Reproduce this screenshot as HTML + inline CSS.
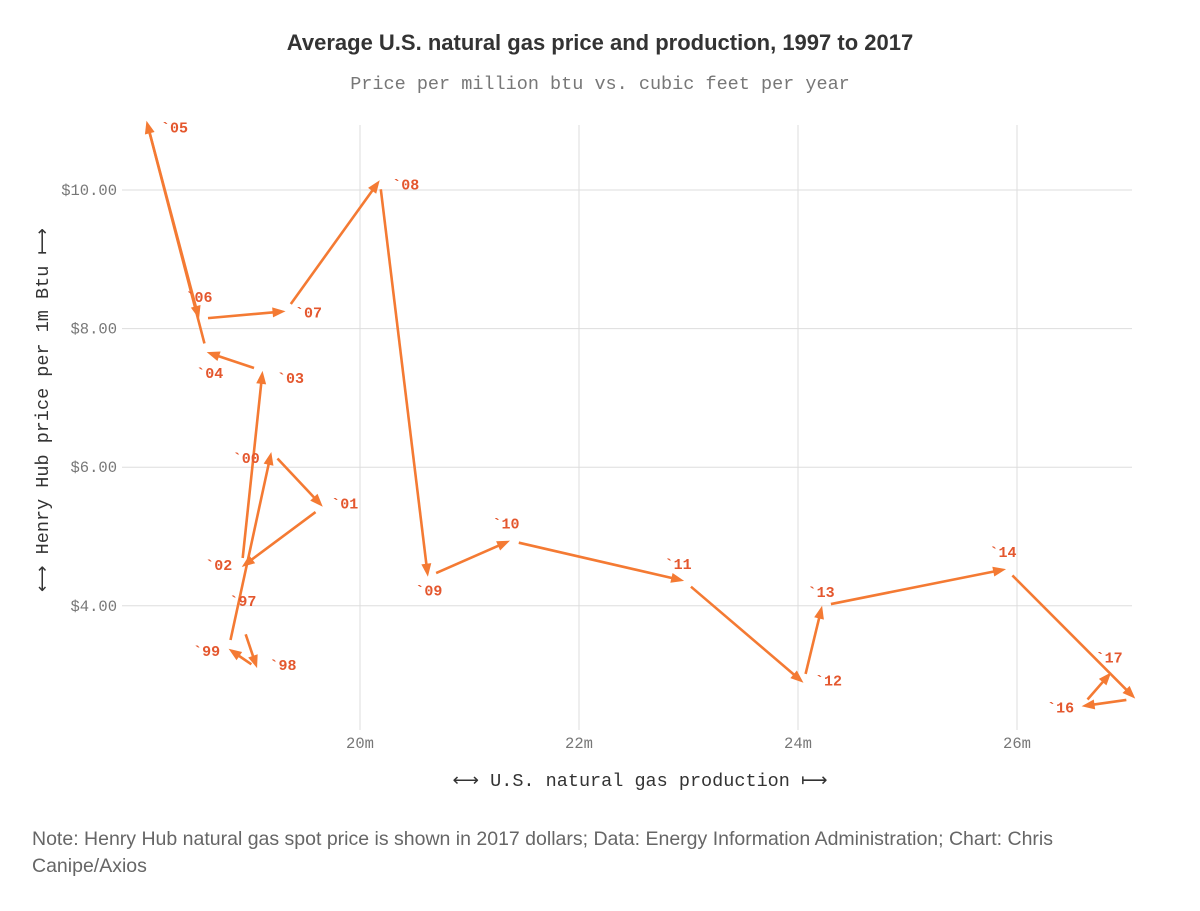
<!DOCTYPE html>
<html><head><meta charset="utf-8"><style>
body{margin:0;background:#fff;width:1200px;height:906px;overflow:hidden}
svg text{font-family:"Liberation Mono",monospace}
</style></head><body>
<svg id="chart" width="1200" height="906" viewBox="0 0 1200 906" xmlns="http://www.w3.org/2000/svg">
<text x="600" y="50" text-anchor="middle" style="font-family:'Liberation Sans',sans-serif;font-weight:bold;font-size:22px" fill="#333">Average U.S. natural gas price and production, 1997 to 2017</text>
<text x="600" y="89" text-anchor="middle" font-size="18.5" fill="#777">Price per million btu vs. cubic feet per year</text>
<g id="grid"></g>
<g id="marks"></g>
<text x="640" y="786" text-anchor="middle" font-size="18.5" fill="#333">⟷ U.S. natural gas production ⟼</text>
<text transform="translate(48,410) rotate(-90)" text-anchor="middle" font-size="18.5" fill="#333">⟷ Henry Hub price per 1m Btu ⟼</text>
<text x="32" y="845" style="font-family:'Liberation Sans',sans-serif;font-size:19.5px" fill="#666">Note: Henry Hub natural gas spot price is shown in 2017 dollars; Data: Energy Information Administration; Chart: Chris</text>
<text x="32" y="872" style="font-family:'Liberation Sans',sans-serif;font-size:19.5px" fill="#666">Canipe/Axios</text>
</svg>
<script>
const years=["`97","`98","`99","`00","`01","`02","`03","`04","`05","`06","`07","`08","`09","`10","`11","`12","`13","`14","`15","`16","`17"];
const production=[18.93,19.06,18.80,19.19,19.66,18.92,19.11,18.60,18.05,18.53,19.32,20.18,20.62,21.37,22.96,24.05,24.22,25.90,27.08,26.59,26.86];
const price=[3.71,3.10,3.38,6.22,5.43,4.56,7.39,7.66,11.0,8.14,8.25,10.14,4.42,4.94,4.36,2.89,4.00,4.53,2.66,2.55,3.04];
const xTicks=[20,22,24,26];
const yTicks=[10,8,6,4];
const xTickLabels=["20m","22m","24m","26m"];
const yTickLabels=["$10.00","$8.00","$6.00","$4.00"];
const showLabel=[1,1,1,1,1,1,1,1,1,1,1,1,1,1,1,1,1,1,0,1,1];

const labelOff=[[0,-25],[26,-3],[-22,2],[-25,6],[22,-3],[-23,-2],[28,7],[3,21],[28,7],[0,-22],[23,1],[26,4],[1,14],[-4,-17],[-6,-17],[25,-2],[-1,-14],[-3,-17],[0,0],[-21,1],[-2,-15]];
function xs(v){return 360+(v-20)*109.5;}
function ys(v){return 190+(10-v)*69.3;}
const NS="http://www.w3.org/2000/svg";
const grid=document.getElementById('grid'),marks=document.getElementById('marks');
function mk(tag,attrs,parent){const e=document.createElementNS(NS,tag);for(const k in attrs)e.setAttribute(k,attrs[k]);parent.appendChild(e);return e;}
xTicks.forEach((t,i)=>{
  const l=mk('line',{x1:xs(t),x2:xs(t),y1:125,y2:730,stroke:'#ddd','stroke-width':1},grid);
  
  
  const tx=mk('text',{x:xs(t),y:748,'text-anchor':'middle','font-size':15.5,fill:'#777'},grid);
  tx.textContent=xTickLabels[i];
  
  
});
yTicks.forEach((t,i)=>{
  const l=mk('line',{x1:122,x2:1132,y1:ys(t),y2:ys(t),stroke:'#ddd','stroke-width':1},grid);
  
  
  const tx=mk('text',{x:117,y:ys(t)+5,'text-anchor':'end','font-size':15.5,fill:'#777'},grid);
  tx.textContent=yTickLabels[i];
  
  
});
const C='#f47a33';
for(let i=0;i<years.length-1;i++){
  const x1=xs(production[i]),y1=ys(price[i]),x2=xs(production[i+1]),y2=ys(price[i+1]);
  const dx=x2-x1,dy=y2-y1,L=Math.hypot(dx,dy),ux=dx/L,uy=dy/L;
  const g=mk('g',{},marks);
  
  
  const s=Math.min(9,L*0.2),h=Math.min(13,L*0.4);
  mk('line',{x1:x1+ux*s,y1:y1+uy*s,x2:x2-ux*h*0.8,y2:y2-uy*h*0.8,stroke:C,'stroke-width':2.6},g);
  const bx=x2-ux*h,by=y2-uy*h,w=5;
  mk('polygon',{points:`${x2},${y2} ${bx-uy*w},${by+ux*w} ${bx+uy*w},${by-ux*w}`,fill:C},g);
}
years.forEach((y,i)=>{
  if(!showLabel[i])return;
  const t=mk('text',{x:xs(production[i])+labelOff[i][0],y:ys(price[i])+labelOff[i][1]+5,'text-anchor':'middle','font-size':15,'font-weight':'bold',fill:'#e4572e'},marks);
  t.textContent=y;
  
  
});
</script>
</body></html>
